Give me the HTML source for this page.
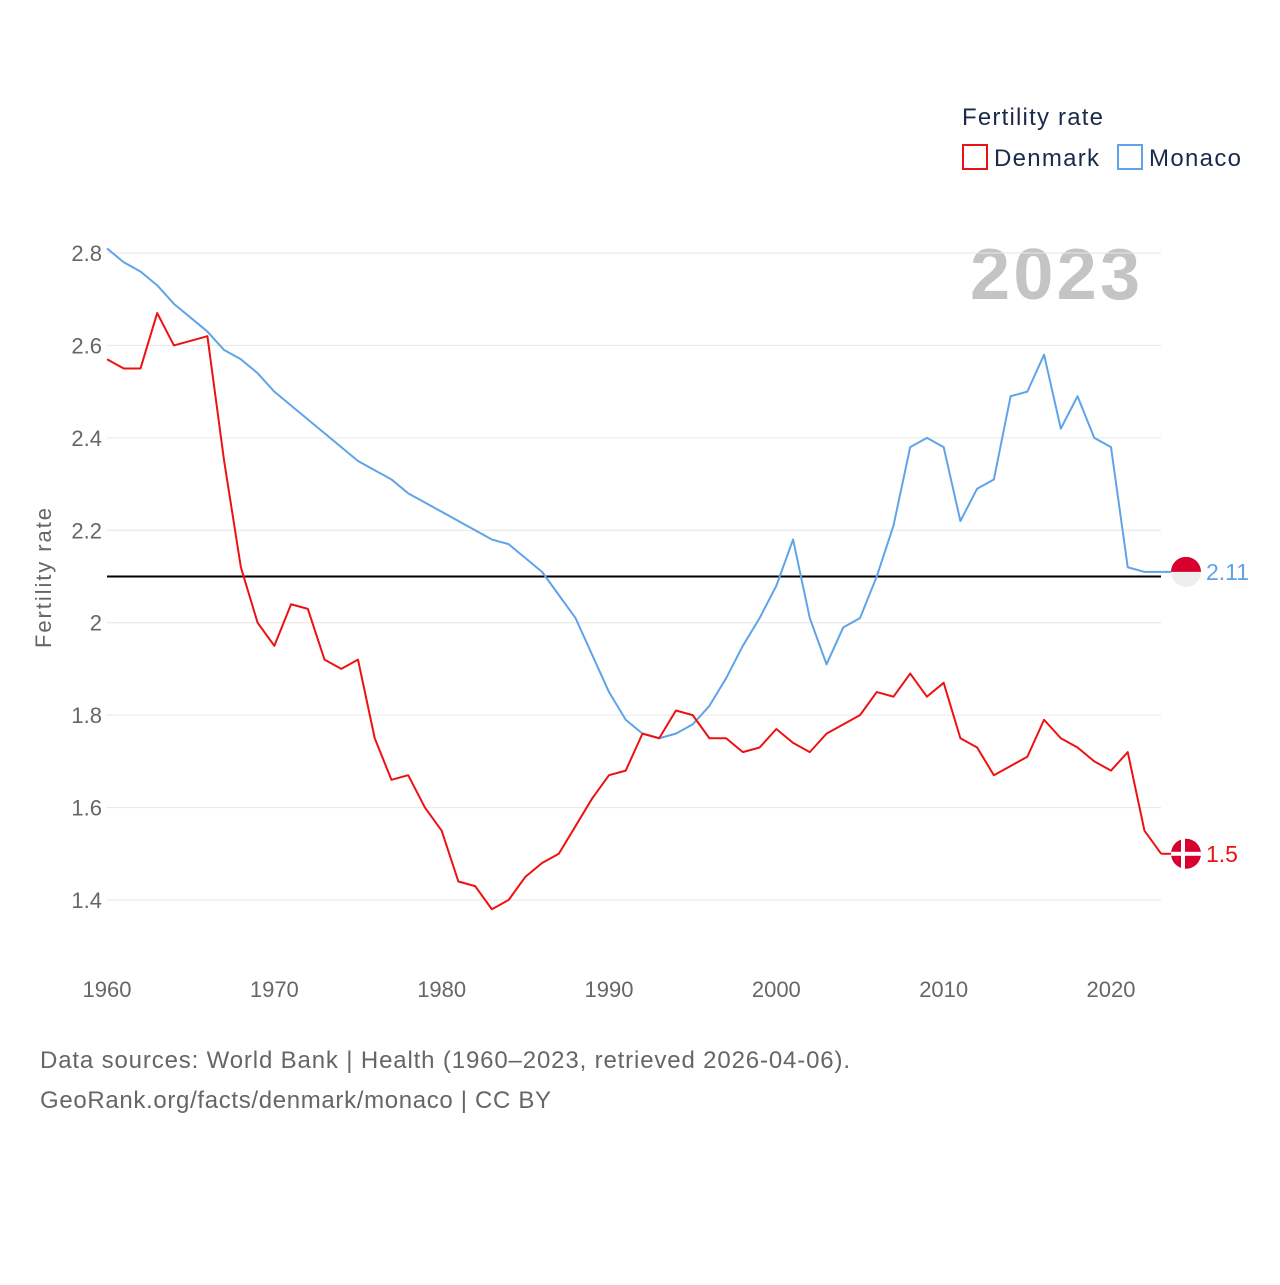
<!DOCTYPE html>
<html><head><meta charset="utf-8"><style>
body{margin:0;background:#fff;font-family:"Liberation Sans",sans-serif}
</style></head><body>
<svg width="1280" height="1280" xmlns="http://www.w3.org/2000/svg" style="font-family:'Liberation Sans',sans-serif">
<text x="962" y="125" font-size="24" fill="#1a2a4a" textLength="141">Fertility rate</text>
<g><rect x="963" y="145" width="24" height="24" fill="none" stroke="#ee1111" stroke-width="2"/><text x="994" y="166" font-size="24" fill="#1a2a4a" textLength="105">Denmark</text></g>
<g><rect x="1118" y="145" width="24" height="24" fill="none" stroke="#5fa4e8" stroke-width="2"/><text x="1149" y="166" font-size="24" fill="#1a2a4a" textLength="92">Monaco</text></g>
<text x="970" y="299" font-size="72" font-weight="bold" fill="#c4c4c4" textLength="170">2023</text>
<text transform="translate(51,578) rotate(-90)" font-size="22" fill="#666" text-anchor="middle" textLength="140">Fertility rate</text>
<g id="grid"></g>
<g id="yticks"></g>
<g id="xticks"></g>
<g id="series"></g>
<text x="40" y="1068" font-size="24" fill="#666" textLength="810">Data sources: World Bank | Health (1960–2023, retrieved 2026-04-06).</text>
<text x="40" y="1108" font-size="24" fill="#666" textLength="511">GeoRank.org/facts/denmark/monaco | CC BY</text>
</svg>
<script>
const years=[];for(let y=1960;y<=2023;y++)years.push(y);
const denmark=[2.57,2.55,2.55,2.67,2.60,2.61,2.62,2.35,2.12,2.00,1.95,2.04,2.03,1.92,1.90,1.92,1.75,1.66,1.67,1.60,1.55,1.44,1.43,1.38,1.40,1.45,1.48,1.50,1.56,1.62,1.67,1.68,1.76,1.75,1.81,1.80,1.75,1.75,1.72,1.73,1.77,1.74,1.72,1.76,1.78,1.80,1.85,1.84,1.89,1.84,1.87,1.75,1.73,1.67,1.69,1.71,1.79,1.75,1.73,1.70,1.68,1.72,1.55,1.50];
const monaco=[2.81,2.78,2.76,2.73,2.69,2.66,2.63,2.59,2.57,2.54,2.50,2.47,2.44,2.41,2.38,2.35,2.33,2.31,2.28,2.26,2.24,2.22,2.20,2.18,2.17,2.14,2.11,2.06,2.01,1.93,1.85,1.79,1.76,1.75,1.76,1.78,1.82,1.88,1.95,2.01,2.08,2.18,2.01,1.91,1.99,2.01,2.10,2.21,2.38,2.40,2.38,2.22,2.29,2.31,2.49,2.50,2.58,2.42,2.49,2.40,2.38,2.12,2.11,2.11];
const yTicks=[1.4,1.6,1.8,2.0,2.2,2.4,2.6,2.8];
const yTickLabels=["1.4","1.6","1.8","2","2.2","2.4","2.6","2.8"];
const xTicks=[1960,1970,1980,1990,2000,2010,2020];
const refLine=2.1;
const NS="http://www.w3.org/2000/svg";
const X=y=>107+(y-1960)*(1111-107)/60;
const Y=v=>253+(2.8-v)*(900-253)/1.4;
function mk(tag,attrs,parent){const e=document.createElementNS(NS,tag);for(const k in attrs)e.setAttribute(k,attrs[k]);parent.appendChild(e);return e;}
const grid=document.getElementById('grid'),yt=document.getElementById('yticks'),xt=document.getElementById('xticks'),se=document.getElementById('series');
yTicks.forEach((v,i)=>{
 const l=mk('line',{x1:107,x2:1161,y1:Y(v),y2:Y(v),stroke:'#e6e6e6','stroke-width':1},grid);
 
 
 const t=mk('text',{x:102,y:Y(v)+8,'font-size':22,fill:'#666','text-anchor':'end'},yt);t.textContent=yTickLabels[i];
 
 
});
xTicks.forEach(y=>{
 const t=mk('text',{x:X(y),y:997,'font-size':22,fill:'#666','text-anchor':'middle'},xt);t.textContent=y;
 
 
});
const ref=mk('line',{x1:107,x2:1161,y1:Y(refLine),y2:Y(refLine),stroke:'#000','stroke-width':2},se);


function line(data,color,name){
 const p=mk('polyline',{points:data.map((v,i)=>X(years[i])+','+Y(v)).join(' '),fill:'none',stroke:color,'stroke-width':2,'stroke-linejoin':'round'},se);
 
 
}
line(monaco,'#5fa4e8','monaco-line');
line(denmark,'#ee1111','denmark-line');
const lx=X(2023);
function endmark(v,color,name,label,isDk){
 const y=Y(v);
 const g=mk('g',{},se);
 
 
 mk('line',{x1:lx,x2:1172,y1:y,y2:y,stroke:color,'stroke-width':2},g);
 if(isDk){
  mk('circle',{cx:1186,cy:y,r:15,fill:'#d8002f'},g);
  mk('rect',{x:1181,y:y-15,width:4,height:30,fill:'#fff'},g);
  mk('rect',{x:1171,y:y-2,width:30,height:4,fill:'#fff'},g);
 }else{
  mk('circle',{cx:1186,cy:y,r:15,fill:'#eeeeee'},g);
  mk('path',{d:`M1171,${y} A15,15 0 0 1 1201,${y} Z`,fill:'#d8002f'},g);
 }
 const t=mk('text',{x:1206,y:y+8,'font-size':23,fill:color},g);t.textContent=label;
}
endmark(monaco[monaco.length-1],'#5fa4e8','monaco-end-label','2.11',false);
endmark(denmark[denmark.length-1],'#ee1111','denmark-end-label','1.5',true);
</script>
</body></html>
